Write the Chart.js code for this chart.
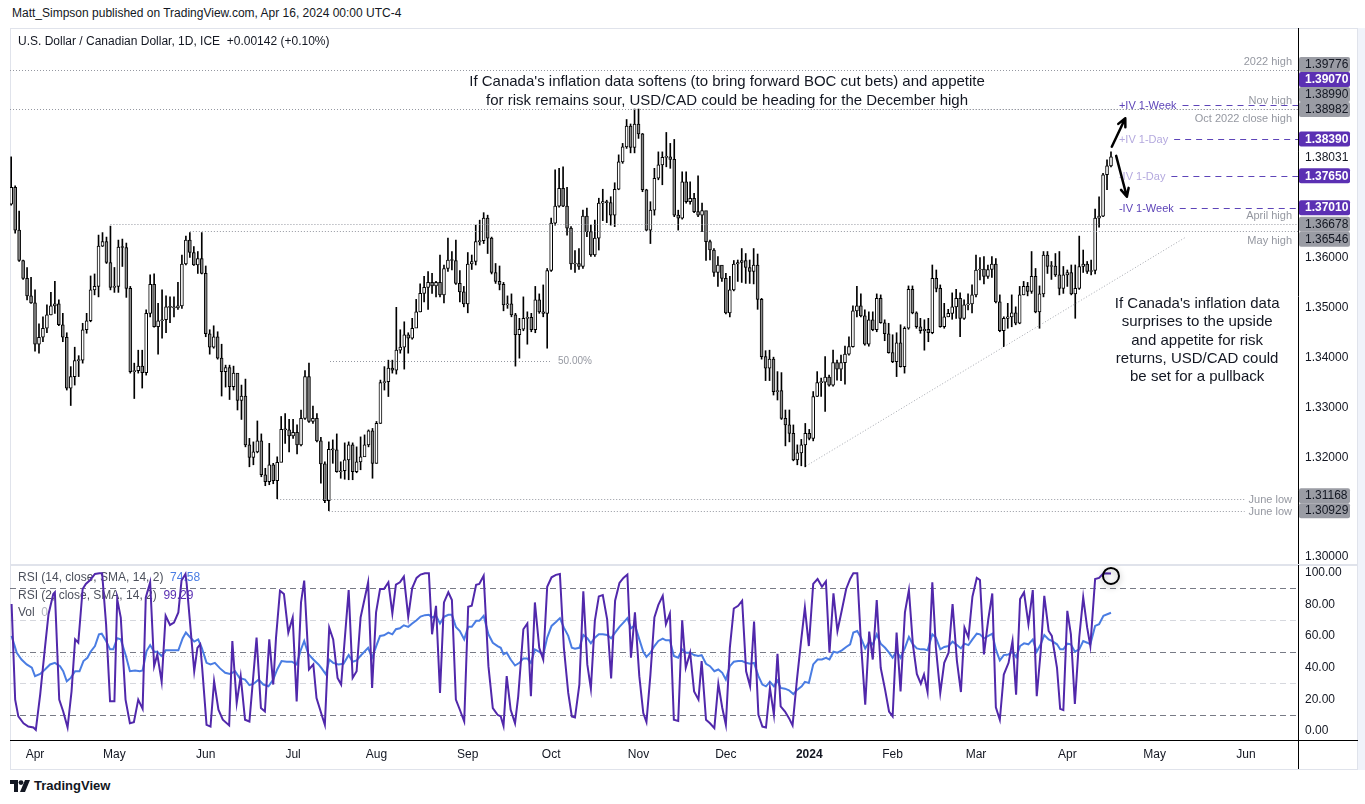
<!DOCTYPE html>
<html>
<head>
<meta charset="utf-8">
<title>USD/CAD daily</title>
<script src="https://cdn.jsdelivr.net/npm/chart.js"></script>
<style>
  body { margin: 0; width: 1365px; height: 804px; background: #fff; position: relative; overflow: hidden;
         font-family: "Liberation Sans", Arial, sans-serif; color: #131722; }
  #pub { position: absolute; left: 12px; top: 6px; font-size: 12px; }
  #frame { position: absolute; left: 10px; top: 28px; width: 1348px; height: 742px; border: 1px solid #e0e3eb; box-sizing: border-box; }
  #strip { position: absolute; left: 1358px; top: 28px; width: 7px; height: 742px; background: #f0f3fa; }
  #sep { position: absolute; left: 10px; top: 564px; width: 1348px; height: 2px; background: #e0e3eb; }
  #c1 { position: absolute; left: 10px; top: 28px; }
  #c2 { position: absolute; left: 10px; top: 565px; }
  #logo { position: absolute; left: 10px; top: 778px; display: flex; align-items: center; gap: 4px;
          font-size: 13px; font-weight: bold; }
</style>
</head>
<body>
<div id="pub">Matt_Simpson published on TradingView.com, Apr 16, 2024 00:00 UTC-4</div>
<div id="frame"></div>
<div id="strip"></div>
<canvas id="c1" width="1348" height="537"></canvas>
<div id="sep"></div>
<canvas id="c2" width="1348" height="204"></canvas>
<div id="logo">
  <svg width="20" height="12" viewBox="0 0 20 12"><path d="M0 0h8v12H4V4H0z" fill="#131722"/><circle cx="11" cy="2.6" r="2.4" fill="#131722"/><path d="M15 0h5l-5 12h-5z" fill="#131722"/></svg>
  <span>TradingView</span>
</div>
<script>
// ---- daily candles, bar index 0 = first trading day of April 2023 ----
const firstBar = -6;
const firstOpen = 1.3708;
const closes = [
  1.3742,1.3656,1.3595,1.3559,1.3524,1.3510,1.3427,1.3441,1.3459,1.3486,
  1.3504,1.3508,1.3466,1.3441,1.3339,1.3362,1.3394,1.3395,1.3456,1.3474,
  1.3536,1.3543,1.3624,1.3633,1.3591,1.3541,1.3543,1.3622,1.3621,1.3539,
  1.3372,1.3374,1.3383,1.3370,1.3489,1.3547,1.3462,1.3474,1.3476,1.3502,
  1.3501,1.3500,1.3504,1.3588,1.3636,1.3611,1.3586,1.3599,1.3569,1.3448,
  1.3421,1.3442,1.3399,1.3372,1.3380,1.3342,1.3369,1.3314,1.3323,1.3225,
  1.3200,1.3211,1.3233,1.3165,1.3151,1.3185,1.3153,1.3190,1.3256,1.3255,
  1.3243,1.3250,1.3225,1.3278,1.3362,1.3272,1.3278,1.3233,1.3187,1.3113,
  1.3216,1.3215,1.3171,1.3173,1.3195,1.3225,1.3171,1.3191,1.3201,1.3225,
  1.3253,1.3188,1.3268,1.3350,1.3352,1.3379,1.3375,1.3415,1.3421,1.3446,
  1.3439,1.3459,1.3492,1.3529,1.3541,1.3551,1.3544,1.3551,1.3526,1.3579,
  1.3596,1.3595,1.3549,1.3532,1.3508,1.3588,1.3593,1.3633,1.3635,1.3680,
  1.3640,1.3571,1.3553,1.3547,1.3506,1.3508,1.3486,1.3446,1.3457,1.3479,
  1.3481,1.3456,1.3516,1.3492,1.3489,1.3575,1.3670,1.3704,1.3740,1.3704,
  1.3660,1.3588,1.3589,1.3583,1.3684,1.3653,1.3606,1.3640,1.3710,1.3713,
  1.3711,1.3686,1.3738,1.3793,1.3823,1.3865,1.3822,1.3869,1.3849,1.3737,
  1.3656,1.3696,1.3760,1.3787,1.3802,1.3803,1.3798,1.3686,1.3680,1.3753,
  1.3713,1.3720,1.3693,1.3686,1.3695,1.3633,1.3616,1.3571,1.3586,1.3559,
  1.3490,1.3536,1.3588,1.3591,1.3595,1.3581,1.3573,1.3586,1.3517,1.3402,
  1.3379,1.3397,1.3332,1.3334,1.3278,1.3265,1.3248,1.3195,1.3209,1.3225,
  1.3248,1.3238,1.3322,1.3350,1.3351,1.3361,1.3345,1.3390,1.3377,1.3390,
  1.3407,1.3422,1.3494,1.3504,1.3484,1.3427,1.3476,1.3456,1.3519,1.3470,
  1.3448,1.3410,1.3392,1.3430,1.3382,1.3459,1.3537,1.3490,1.3462,1.3454,
  1.3457,1.3450,1.3559,1.3539,1.3462,1.3482,1.3489,1.3502,1.3519,1.3479,
  1.3506,1.3508,1.3526,1.3576,1.3578,1.3563,1.3577,1.3588,1.3512,1.3454,
  1.3479,1.3482,1.3490,1.3469,1.3526,1.3543,1.3533,1.3563,1.3492,1.3528,
  1.3606,1.3583,1.3584,1.3566,1.3539,1.3566,1.3571,1.3528,1.3539,1.3583,
  1.3588,1.3573,1.3575,1.3680,1.3684,1.3767,1.3785,1.3803
];
const highs = [
  1.3803,1.3745,1.3694,1.3596,1.3581,1.3561,1.3536,1.3468,1.3482,1.3506,
  1.3531,1.3553,1.3516,1.3489,1.3450,1.3382,1.3421,1.3404,1.3469,1.3489,
  1.3564,1.3568,1.3646,1.3651,1.3642,1.3664,1.3581,1.3636,1.3638,1.3630,
  1.3543,1.3389,1.3415,1.3415,1.3496,1.3566,1.3568,1.3509,1.3536,1.3524,
  1.3522,1.3522,1.3551,1.3606,1.3644,1.3651,1.3623,1.3613,1.3651,1.3584,
  1.3456,1.3464,1.3452,1.3427,1.3385,1.3385,1.3383,1.3367,1.3345,1.3357,
  1.3238,1.3231,1.3273,1.3247,1.3178,1.3228,1.3188,1.3201,1.3282,1.3288,
  1.3276,1.3276,1.3265,1.3295,1.3374,1.3389,1.3303,1.3288,1.3240,1.3191,
  1.3231,1.3235,1.3247,1.3191,1.3229,1.3231,1.3229,1.3221,1.3241,1.3245,
  1.3255,1.3258,1.3272,1.3355,1.3382,1.3395,1.3395,1.3501,1.3456,1.3472,
  1.3450,1.3479,1.3517,1.3548,1.3563,1.3573,1.3569,1.3553,1.3606,1.3586,
  1.3640,1.3613,1.3636,1.3575,1.3543,1.3611,1.3606,1.3666,1.3676,1.3691,
  1.3686,1.3642,1.3589,1.3584,1.3551,1.3524,1.3528,1.3489,1.3479,1.3522,
  1.3492,1.3489,1.3543,1.3528,1.3546,1.3579,1.3680,1.3777,1.3780,1.3783,
  1.3742,1.3663,1.3615,1.3619,1.3696,1.3700,1.3666,1.3676,1.3720,1.3738,
  1.3716,1.3723,1.3751,1.3807,1.3830,1.3878,1.3869,1.3899,1.3899,1.3850,
  1.3738,1.3713,1.3780,1.3813,1.3813,1.3852,1.3830,1.3838,1.3696,1.3773,
  1.3773,1.3753,1.3730,1.3765,1.3710,1.3693,1.3636,1.3619,1.3603,1.3583,
  1.3569,1.3563,1.3595,1.3596,1.3619,1.3609,1.3596,1.3619,1.3608,1.3519,
  1.3414,1.3415,1.3401,1.3372,1.3370,1.3295,1.3295,1.3265,1.3225,1.3236,
  1.3268,1.3256,1.3332,1.3372,1.3359,1.3402,1.3365,1.3415,1.3395,1.3405,
  1.3423,1.3442,1.3504,1.3543,1.3528,1.3496,1.3492,1.3492,1.3528,1.3526,
  1.3476,1.3469,1.3446,1.3450,1.3466,1.3462,1.3544,1.3544,1.3492,1.3479,
  1.3476,1.3479,1.3586,1.3576,1.3546,1.3509,1.3497,1.3530,1.3537,1.3530,
  1.3516,1.3528,1.3546,1.3606,1.3601,1.3603,1.3586,1.3603,1.3599,1.3526,
  1.3482,1.3509,1.3526,1.3502,1.3543,1.3553,1.3551,1.3613,1.3579,1.3544,
  1.3613,1.3613,1.3593,1.3609,1.3613,1.3583,1.3576,1.3586,1.3586,1.3644,
  1.3616,1.3593,1.3596,1.3698,1.3723,1.3770,1.3797,1.3813
];
const lows = [
  1.3706,1.3650,1.3593,1.3557,1.3516,1.3509,1.3413,1.3409,1.3432,1.3450,
  1.3486,1.3489,1.3464,1.3432,1.3335,1.3304,1.3345,1.3362,1.3389,1.3449,
  1.3472,1.3526,1.3522,1.3623,1.3589,1.3536,1.3531,1.3531,1.3583,1.3521,
  1.3369,1.3318,1.3369,1.3339,1.3365,1.3482,1.3461,1.3407,1.3439,1.3450,
  1.3470,1.3482,1.3497,1.3499,1.3586,1.3601,1.3585,1.3569,1.3568,1.3442,
  1.3407,1.3419,1.3397,1.3323,1.3341,1.3316,1.3335,1.3295,1.3276,1.3221,
  1.3181,1.3185,1.3209,1.3161,1.3143,1.3145,1.3147,1.3117,1.3191,1.3228,
  1.3211,1.3238,1.3207,1.3223,1.3276,1.3270,1.3268,1.3231,1.3148,1.3109,
  1.3093,1.3188,1.3170,1.3158,1.3156,1.3155,1.3155,1.3169,1.3175,1.3205,
  1.3221,1.3158,1.3188,1.3268,1.3335,1.3322,1.3369,1.3367,1.3409,1.3377,
  1.3409,1.3437,1.3461,1.3492,1.3512,1.3497,1.3529,1.3522,1.3522,1.3510,
  1.3573,1.3576,1.3547,1.3512,1.3502,1.3490,1.3577,1.3586,1.3626,1.3629,
  1.3609,1.3568,1.3549,1.3536,1.3494,1.3499,1.3482,1.3383,1.3399,1.3454,
  1.3427,1.3452,1.3450,1.3489,1.3482,1.3419,1.3573,1.3666,1.3702,1.3703,
  1.3646,1.3577,1.3571,1.3577,1.3579,1.3643,1.3603,1.3603,1.3616,1.3675,
  1.3671,1.3666,1.3663,1.3737,1.3790,1.3820,1.3811,1.3811,1.3840,1.3733,
  1.3655,1.3629,1.3686,1.3757,1.3747,1.3783,1.3780,1.3683,1.3656,1.3678,
  1.3710,1.3708,1.3691,1.3683,1.3653,1.3595,1.3596,1.3563,1.3543,1.3553,
  1.3488,1.3482,1.3534,1.3553,1.3551,1.3549,1.3549,1.3548,1.3497,1.3397,
  1.3354,1.3354,1.3325,1.3315,1.3276,1.3223,1.3231,1.3193,1.3185,1.3183,
  1.3181,1.3235,1.3233,1.3322,1.3322,1.3292,1.3343,1.3343,1.3355,1.3354,
  1.3347,1.3405,1.3421,1.3482,1.3482,1.3425,1.3423,1.3454,1.3452,1.3469,
  1.3434,1.3409,1.3390,1.3362,1.3381,1.3369,1.3457,1.3488,1.3459,1.3449,
  1.3415,1.3432,1.3448,1.3532,1.3461,1.3459,1.3482,1.3477,1.3479,1.3442,
  1.3477,1.3496,1.3490,1.3522,1.3556,1.3548,1.3559,1.3561,1.3510,1.3452,
  1.3422,1.3459,1.3462,1.3466,1.3468,1.3526,1.3524,1.3529,1.3490,1.3459,
  1.3522,1.3569,1.3557,1.3563,1.3526,1.3529,1.3543,1.3526,1.3479,1.3537,
  1.3571,1.3569,1.3566,1.3568,1.3662,1.3683,1.3737,1.3783
];

// ---- RSI readings as [bar, value] ----
const rsi2 = [
  [-5.9,80.1],[-5.0,19.8],[-4.2,9.2],[-2.9,4.9],[-1.7,2.8],[-0.4,2.2],[0.2,0.7],[1.3,22.9],[2.5,52.5],[3.4,73.7],
  [4.6,86.4],[5.0,87.5],[6.1,19.8],[7.1,12.3],[8.2,2.2],[9.2,25.0],[10.1,57.8],[10.9,55.7],[12.0,89.6],[12.8,92.8],
  [13.9,95.3],[15.1,99.1],[16.2,99.5],[16.9,99.5],[17.9,67.4],[18.9,18.7],[20.0,18.7],[20.7,83.2],[21.6,71.6],[22.8,19.8],
  [23.9,4.9],[24.9,5.6],[26.0,19.8],[27.1,14.0],[27.9,84.3],[29.0,93.8],[30.0,40.9],[30.8,48.3],[31.9,31.0],[32.9,72.7],
  [34.0,66.9],[35.0,68.4],[36.1,74.8],[36.9,94.9],[37.9,99.1],[38.2,92.8],[40.1,37.7],[40.9,52.5],[41.6,54.7],[42.1,39.9],
  [43.2,3.9],[44.2,2.8],[45.1,31.4],[46.2,13.4],[47.3,7.1],[48.9,3.5],[49.7,56.8],[50.8,17.6],[51.8,34.6],[52.9,7.1],
  [54.0,6.0],[55.8,58.9],[56.9,14.5],[57.9,12.3],[59.0,57.8],[60.0,29.3],[60.7,58.9],[61.7,88.5],[62.7,86.4],[63.8,62.1],
  [64.9,71.6],[65.9,18.7],[67.0,81.1],[67.8,94.9],[69.0,38.8],[70.1,42.0],[70.9,20.8],[72.2,10.2],[73.0,3.9],[74.1,65.2],
  [75.1,57.8],[76.2,33.5],[77.1,29.3],[79.0,88.9],[80.0,33.5],[81.0,37.7],[82.0,71.6],[83.9,93.8],[84.9,27.2],[85.9,74.8],
  [86.9,89.6],[87.9,89.6],[89.0,93.8],[90.0,74.1],[90.9,92.3],[91.9,93.8],[92.9,97.4],[94.0,72.0],[95.0,90.2],[96.1,96.6],
  [97.1,98.7],[98.2,99.5],[99.2,99.5],[100.0,61.0],[101.0,79.0],[102.0,24.0],[103.0,81.1],[104.1,87.5],[105.0,82.6],[106.0,19.8],
  [107.0,13.4],[108.1,6.0],[109.1,78.4],[110.0,79.0],[111.1,92.3],[111.9,92.8],[113.0,98.0],[114.2,40.9],[115.3,14.5],[116.5,10.2],
  [117.3,9.2],[118.0,3.2],[118.8,34.6],[119.8,13.4],[120.9,4.9],[121.7,21.9],[123.0,64.2],[124.0,67.8],[124.9,21.9],[125.9,81.1],
  [127.0,52.5],[128.0,45.1],[129.0,91.0],[130.1,97.0],[131.2,98.5],[132.2,99.1],[133.2,52.5],[134.3,24.0],[135.2,9.2],[136.0,8.5],
  [137.1,29.3],[138.1,88.1],[139.1,42.0],[140.0,26.7],[141.0,69.5],[142.0,84.9],[143.0,85.8],[144.1,70.5],[145.1,33.1],[146.1,82.2],
  [147.2,93.4],[148.2,96.6],[149.2,98.7],[150.1,46.2],[151.1,74.8],[152.2,34.6],[153.2,11.3],[154.0,5.6],[155.0,35.6],[156.0,71.6],
  [157.0,79.6],[158.1,85.3],[158.9,67.4],[159.9,74.1],[160.9,7.1],[162.0,6.4],[163.0,69.9],[163.9,39.9],[165.0,49.4],[166.0,25.0],
  [167.1,19.8],[167.9,44.1],[169.0,7.1],[170.0,4.9],[171.1,1.8],[172.1,29.7],[173.1,14.5],[174.0,3.9],[175.0,52.5],[176.0,77.3],
  [177.1,79.0],[178.1,82.2],[179.1,37.7],[180.1,28.2],[181.1,69.0],[182.2,10.2],[183.2,2.8],[184.1,2.2],[185.1,27.2],[186.1,10.2],
  [187.0,48.7],[187.8,15.5],[188.9,12.3],[189.9,8.1],[190.8,3.5],[191.9,32.4],[192.9,55.7],[193.9,77.9],[194.9,53.6],[196.0,92.8],
  [197.1,95.9],[198.2,91.0],[199.2,94.4],[200.1,49.4],[201.1,86.8],[202.1,63.1],[203.2,76.2],[204.3,89.6],[205.3,95.9],[206.1,99.5],
  [207.1,99.5],[208.0,56.8],[209.1,16.6],[210.1,62.7],[211.0,45.1],[212.0,82.6],[213.0,39.9],[214.1,26.1],[215.1,12.3],[216.0,9.2],
  [217.0,62.1],[218.0,25.0],[219.1,74.8],[220.1,88.9],[221.1,54.7],[222.1,36.0],[223.1,29.9],[223.9,35.6],[224.8,24.6],[226.0,93.8],
  [226.9,52.5],[228.0,24.0],[229.0,43.0],[230.1,49.4],[231.1,80.1],[232.2,44.1],[233.2,24.6],[234.1,65.2],[235.1,58.9],[236.1,84.7],
  [237.2,96.6],[238.0,95.3],[239.0,48.3],[240.1,70.5],[241.1,86.8],[242.0,14.9],[243.0,7.1],[244.0,35.6],[245.2,43.0],[246.2,56.8],
  [247.1,22.9],[248.1,83.2],[249.1,87.5],[250.2,67.4],[251.3,88.9],[252.3,21.9],[253.3,50.4],[254.2,85.3],[255.3,63.1],[256.1,60.0],
  [257.4,39.9],[258.2,14.0],[259.0,13.2],[260.0,75.8],[260.9,61.0],[261.9,17.0],[263.0,58.9],[264.0,84.3],[265.0,65.2],[265.8,53.6],
  [267.0,95.9],[268.0,96.6],[269.1,99.5],[271.0,99.3]
];
const rsi14 = [
  [-5.9,60.0],[-4.6,49.4],[-3.4,45.1],[-2.1,42.0],[-0.8,39.9],[0.0,34.6],[1.3,36.0],[2.5,38.8],[3.8,42.0],[5.0,43.0],
  [6.3,40.9],[7.1,37.7],[8.0,31.4],[9.0,33.5],[10.1,37.7],[11.2,37.7],[12.2,44.1],[13.2,46.2],[14.0,50.0],[15.1,53.6],
  [16.1,61.0],[16.8,61.4],[17.9,56.8],[18.9,51.5],[19.7,51.5],[20.7,58.5],[21.6,57.8],[22.9,47.3],[23.9,37.7],[25.2,38.2],
  [26.4,37.7],[27.1,38.2],[28.1,50.4],[29.0,54.2],[30.0,50.0],[30.8,50.0],[31.9,47.3],[32.9,50.9],[34.8,50.9],[36.1,50.9],
  [37.2,58.5],[38.0,62.1],[39.0,59.3],[40.1,56.4],[41.1,57.8],[42.0,52.5],[43.2,43.0],[44.2,42.0],[45.3,43.0],[46.6,39.5],
  [47.9,36.7],[49.1,36.0],[50.4,37.7],[51.5,33.5],[52.9,32.4],[54.0,28.9],[55.0,29.7],[56.3,32.4],[57.5,29.3],[58.8,28.2],
  [60.0,32.4],[61.0,38.8],[62.1,44.1],[63.4,43.7],[64.7,43.7],[65.9,42.0],[66.9,50.9],[67.8,56.8],[68.8,48.7],[70.1,45.1],
  [71.4,42.0],[72.2,39.5],[73.3,35.6],[74.1,45.1],[75.1,43.0],[76.4,42.0],[77.7,42.4],[79.0,47.9],[80.0,43.7],[81.0,44.5],
  [82.3,48.3],[83.9,52.5],[84.9,46.2],[86.1,54.7],[86.9,60.0],[87.9,60.4],[89.0,62.1],[90.0,61.0],[90.9,64.2],[91.9,64.8],
  [92.9,66.7],[94.0,65.7],[95.0,67.8],[96.1,69.9],[97.1,72.2],[98.2,73.1],[99.2,73.3],[100.0,71.6],[101.0,72.7],[102.0,67.8],
  [103.0,72.0],[104.1,73.3],[105.0,73.3],[106.0,65.7],[107.0,63.1],[108.1,57.8],[109.1,65.7],[110.0,65.7],[111.1,69.5],[111.9,69.5],
  [113.0,72.7],[114.2,61.0],[115.3,55.7],[116.5,53.6],[117.3,52.5],[118.0,48.3],[118.8,49.4],[119.8,45.1],[120.9,41.3],[122.0,43.0],
  [123.0,45.8],[124.0,45.8],[124.9,43.0],[125.9,51.5],[127.0,50.0],[128.0,47.9],[129.0,58.9],[130.1,66.3],[131.2,68.8],[132.2,71.2],
  [133.2,65.2],[134.3,60.0],[135.2,52.5],[136.0,51.9],[137.1,52.5],[138.1,60.6],[139.1,58.5],[140.0,55.3],[141.0,58.9],[142.0,61.0],
  [143.0,61.0],[144.1,60.6],[145.1,58.5],[146.1,62.1],[147.2,65.7],[148.2,68.4],[149.2,71.2],[150.1,64.8],[151.1,66.7],[152.2,57.8],
  [153.2,50.0],[154.0,46.8],[155.0,49.4],[156.0,53.6],[157.0,56.8],[158.1,58.3],[158.9,57.2],[159.9,57.2],[160.9,47.3],[162.0,46.2],
  [163.0,51.5],[163.9,49.4],[165.0,49.4],[166.0,47.9],[167.1,47.3],[167.9,47.9],[169.0,42.4],[170.0,40.9],[171.1,37.7],[172.1,38.8],
  [173.1,36.7],[174.0,32.4],[175.0,40.9],[176.0,43.7],[177.1,44.1],[178.1,44.1],[179.1,43.0],[180.1,42.4],[181.1,43.0],[182.2,34.6],
  [183.2,29.3],[184.1,28.2],[185.1,31.0],[186.1,28.2],[187.0,31.8],[187.8,27.2],[188.9,26.7],[189.9,25.7],[191.0,23.3],[192.0,26.1],
  [193.1,28.2],[193.9,31.0],[194.9,30.3],[196.0,42.0],[197.1,45.1],[198.2,45.1],[199.2,46.2],[200.1,45.1],[201.1,50.0],[202.1,49.4],
  [203.2,50.9],[204.3,53.0],[205.3,54.7],[206.1,62.1],[207.1,63.1],[208.0,58.9],[209.1,52.1],[210.1,56.4],[211.0,54.7],[212.0,61.0],
  [213.0,55.1],[214.1,52.5],[215.1,49.4],[216.0,46.2],[217.0,50.4],[218.0,46.2],[219.1,52.5],[220.1,59.3],[221.1,54.7],[222.1,52.1],
  [223.1,51.5],[223.9,51.5],[224.8,50.9],[226.0,61.0],[226.9,58.9],[228.0,51.5],[229.0,53.0],[230.1,53.6],[231.1,56.4],[232.2,54.2],
  [233.2,52.1],[234.1,55.1],[235.1,54.2],[236.1,57.8],[237.2,61.4],[238.0,61.0],[239.0,58.5],[240.1,60.0],[241.1,61.4],[242.0,51.5],
  [243.0,44.5],[244.0,47.9],[245.2,48.3],[246.2,50.0],[247.1,46.6],[248.1,53.6],[249.1,55.3],[250.2,54.7],[251.3,57.8],[252.3,50.0],
  [253.3,54.7],[254.2,60.6],[255.3,57.8],[256.1,56.8],[257.4,54.7],[258.2,51.5],[259.0,51.5],[260.0,55.1],[260.9,54.7],[261.9,50.0],
  [263.0,51.5],[264.0,56.8],[265.0,55.7],[265.8,54.7],[267.0,66.3],[268.0,67.4],[269.1,72.7],[271.0,74.6]
];

// ---- axes ----
const monthLabels = ['Apr','May','Jun','Jul','Aug','Sep','Oct','Nov','Dec','2024','Feb','Mar','Apr','May','Jun'];
const monthBars = [0, 20, 43, 65, 86, 109, 130, 152, 174, 195, 216, 237, 260, 282, 305];
const priceTicks = [1.30, 1.32, 1.33, 1.34, 1.35, 1.36];
const rsiTicks = [0, 20, 40, 60, 80, 100];
const rsiBands = [90, 70, 50, 30, 10];

// ---- drawings ----
const levelNames = ['2022 high', 'Nov high', 'Oct 2022 close high', 'April high', 'May high', 'June low', 'June low'];
const levelPrices = [1.39776, 1.38990, 1.38982, 1.36678, 1.36546, 1.31168, 1.30929];
const levelFrom = [-6.3, 150, -6.3, 19, 39, 61, 74];
const ivNames = ['+IV 1-Week', '+IV 1-Day', '-IV 1-Day', '-IV 1-Week'];
const ivPrices = [1.3907, 1.3839, 1.3765, 1.3701];
const ivFrom = 273;
const tagPrices = [1.39776, 1.39070, 1.38990, 1.38982, 1.38390, 1.38031, 1.37650, 1.37010, 1.36678, 1.36546, 1.31168, 1.30929];
const tagKinds = ['grey','iv','grey','grey','iv','last','iv','iv','grey','grey','grey','grey'];
const fibLevel = 1.3393, fibBars = [74.3, 129.7];
const trendBars = [194.2, 289.7], trendPrices = [1.31826, 1.36412];
const topNote = ["If Canada's inflation data softens (to bring forward BOC cut bets) and appetite",
                 "for risk remains sour, USD/CAD could be heading for the December high"];
const rightNote = ["If Canada's inflation data", "surprises to the upside", "and appetite for risk",
                   "returns, USD/CAD could", "be set for a pullback"];

const xMin = -6.3, xMax = 318.1;
const bars = closes.map((c, k) => firstBar + k);
const opens = closes.map((c, k) => k === 0 ? firstOpen : closes[k - 1]);
const FONT = '"Liberation Sans", Arial, sans-serif';

function line(ctx, x1, y1, x2, y2, color, dash, width) {
  ctx.save();
  ctx.strokeStyle = color;
  ctx.lineWidth = width || 1;
  ctx.setLineDash(dash || []);
  ctx.beginPath();
  ctx.moveTo(x1, y1);
  ctx.lineTo(x2, y2);
  ctx.stroke();
  ctx.restore();
}

function arrow(ctx, x1, y1, x2, y2) {
  const a = Math.atan2(y2 - y1, x2 - x1), h = 9;
  ctx.save();
  ctx.strokeStyle = '#000';
  ctx.lineWidth = 2.5;
  ctx.lineCap = 'round';
  ctx.lineJoin = 'round';
  ctx.beginPath();
  ctx.moveTo(x1, y1);
  ctx.lineTo(x2, y2);
  ctx.moveTo(x2 - h * Math.cos(a - 0.45), y2 - h * Math.sin(a - 0.45));
  ctx.lineTo(x2, y2);
  ctx.lineTo(x2 - h * Math.cos(a + 0.45), y2 - h * Math.sin(a + 0.45));
  ctx.stroke();
  ctx.restore();
}

function roundRect(ctx, x, y, w, h, r) {
  ctx.beginPath();
  ctx.moveTo(x + r, y);
  ctx.arcTo(x + w, y, x + w, y + h, r);
  ctx.arcTo(x + w, y + h, x, y + h, r);
  ctx.arcTo(x, y + h, x, y, r);
  ctx.arcTo(x, y, x + w, y, r);
  ctx.closePath();
}

const priceDrawings = {
  id: 'priceDrawings',
  afterDatasetsDraw(chart) {
    const { ctx, chartArea } = chart;
    const X = v => chart.scales.x.getPixelForValue(v);
    const Y = v => chart.scales.y.getPixelForValue(v);
    const right = chartArea.right;
    ctx.save();
    ctx.font = '11px ' + FONT;

    // key levels
    levelPrices.forEach((p, k) => {
      const y = Math.round(Y(p)) + 0.5;
      const name = levelNames[k];
      const w = ctx.measureText(name).width;
      ctx.fillStyle = '#9598a1';
      ctx.textAlign = 'right';
      if (name === 'June low') {
        line(ctx, X(levelFrom[k]), y, right - w - 10, y, '#9598a1', [1, 2]);
        ctx.textBaseline = 'middle';
        ctx.fillText(name, right - 6, y);
      } else {
        line(ctx, X(levelFrom[k]), y, right, y, '#9598a1', [1, 2]);
        const below = name === 'Oct 2022 close high' || name === 'May high';
        ctx.textBaseline = below ? 'top' : 'bottom';
        ctx.fillText(name, right - 6, below ? y + 4 : y - 3);
      }
    });

    // 50% retracement
    const fy = Math.round(Y(fibLevel)) + 0.5;
    line(ctx, X(fibBars[0]), fy, X(fibBars[1]), fy, '#9598a1', [1, 2]);
    ctx.textAlign = 'left';
    ctx.textBaseline = 'middle';
    ctx.fillStyle = '#9598a1';
    ctx.font = '10px ' + FONT;
    ctx.fillText('50.00%', X(fibBars[1]) + 8, fy);

    // rising trend line
    line(ctx, X(trendBars[0]), Y(trendPrices[0]), X(trendBars[1]), Y(trendPrices[1]), '#a3a6ad', [1, 2]);

    // implied volatility bands
    ctx.font = '11px ' + FONT;
    ivPrices.forEach((p, k) => {
      const y = Math.round(Y(p)) + 0.5;
      const x0 = X(ivFrom);
      const week = ivNames[k].indexOf('Week') > 0;
      ctx.fillStyle = week ? '#5d44b8' : '#b4a9de';
      ctx.textAlign = 'left';
      ctx.textBaseline = 'middle';
      ctx.fillText(ivNames[k], x0, y);
      const w = ctx.measureText(ivNames[k]).width;
      line(ctx, x0 + w + 6, y, right, y, '#5d44b8', [6, 5]);
    });

    // arrows
    arrow(ctx, X(271.2), Y(1.38234), X(274.6), Y(1.38805));
    arrow(ctx, X(272.3), Y(1.38050), X(275.0), Y(1.37230));

    // notes
    ctx.fillStyle = '#131722';
    ctx.font = '15px ' + FONT;
    ctx.textAlign = 'center';
    ctx.textBaseline = 'middle';
    topNote.forEach((t, k) => ctx.fillText(t, X(174.3), Y(1.39532) + k * 19));
    rightNote.forEach((t, k) => ctx.fillText(t, X(292.7), Y(1.35077) + k * 18.3));
    ctx.restore();
  },
  afterDraw(chart) {
    const { ctx, chartArea } = chart;
    const Y = v => chart.scales.y.getPixelForValue(v);
    const right = chartArea.right;
    ctx.save();
    line(ctx, right + 0.5, 0, right + 0.5, chart.height, '#000');

    // symbol header
    ctx.font = '12px ' + FONT;
    ctx.fillStyle = '#131722';
    ctx.textAlign = 'left';
    ctx.textBaseline = 'middle';
    ctx.fillText('U.S. Dollar / Canadian Dollar, 1D, ICE  +0.00142 (+0.10%)', 8, 14);

    // price tags on the axis, pushed apart where they collide
    const tags = tagPrices.map((p, k) => ({ p, kind: tagKinds[k], y: Y(p) }));
    const pushDown = [1.36678, 1.36546];
    for (let k = tags.length - 2; k >= 0; k--) {
      if (pushDown.indexOf(tags[k].p) < 0 && tags[k].y > tags[k + 1].y - 15) tags[k].y = tags[k + 1].y - 15;
    }
    for (let k = 1; k < tags.length; k++) {
      if (pushDown.indexOf(tags[k].p) >= 0 && tags[k].y < tags[k - 1].y + 15) tags[k].y = tags[k - 1].y + 15;
    }
    tags.forEach(t => {
      const bg = t.kind === 'iv' ? '#5b30b3' : t.kind === 'grey' ? '#9a9ca4' : '#ffffff';
      ctx.fillStyle = bg;
      roundRect(ctx, right + 1, t.y - 7.5, 51, 15, 2);
      ctx.fill();
      ctx.fillStyle = t.kind === 'iv' ? '#ffffff' : '#131722';
      ctx.font = (t.kind === 'iv' ? 'bold ' : '') + '12px ' + FONT;
      ctx.textAlign = 'left';
      ctx.fillText(t.p.toFixed(5), right + 7, t.y + 0.5);
    });
    ctx.restore();
  }
};

const rsiDrawings = {
  id: 'rsiDrawings',
  beforeDatasetsDraw(chart) {
    const { ctx, chartArea } = chart;
    const X = v => chart.scales.x.getPixelForValue(v);
    const Y = v => chart.scales.y.getPixelForValue(v);
    rsiBands.forEach(v => {
      const y = Math.round(Y(v)) + 0.5;
      const strong = v === 90 || v === 50 || v === 10;
      line(ctx, chartArea.left, y, chartArea.right, y, strong ? '#787b86' : '#d6d8de', [6, 4]);
    });
    const vy = Math.round(Y(47.6)) + 0.5;
    line(ctx, chartArea.left, vy, X(271), vy, '#cfd1d6', [1, 2]);

    ctx.save();
    ctx.font = '12px ' + FONT;
    ctx.textBaseline = 'middle';
    ctx.textAlign = 'left';
    const legend = [
      ['RSI (14, close, SMA, 14, 2)', '74.58', '#4a7de3'],
      ['RSI (2, close, SMA, 14, 2)', '99.29', '#5b30b3'],
      ['Vol', '0', '#b2b5be']
    ];
    legend.forEach((row, k) => {
      const y = 13 + k * 17.5;
      ctx.fillStyle = '#4c505c';
      ctx.fillText(row[0], 8, y);
      const w = ctx.measureText(row[0] + '  ').width;
      ctx.fillStyle = row[2];
      ctx.fillText(row[1], 8 + w, y);
    });
    ctx.restore();
  },
  afterDraw(chart) {
    const { ctx, chartArea } = chart;
    const X = v => chart.scales.x.getPixelForValue(v);
    const Y = v => chart.scales.y.getPixelForValue(v);
    line(ctx, chartArea.right + 0.5, 0, chartArea.right + 0.5, chart.height, '#000');
    line(ctx, 0, chartArea.bottom + 0.5, chart.width, chartArea.bottom + 0.5, '#000');
    ctx.save();
    ctx.shadowColor = 'rgba(0,0,0,0.35)';
    ctx.shadowBlur = 6;
    ctx.shadowOffsetY = 2;
    ctx.strokeStyle = '#000';
    ctx.lineWidth = 2;
    ctx.beginPath();
    ctx.arc(X(271), Y(97.8), 8, 0, Math.PI * 2);
    ctx.stroke();
    ctx.restore();
  }
};

const common = {
  animation: false,
  responsive: false,
  events: [],
  layout: { padding: 0 },
  plugins: { legend: { display: false }, tooltip: { enabled: false } }
};

new Chart(document.getElementById('c1'), {
  type: 'bar',
  data: {
    datasets: [
      {
        label: 'body',
        data: bars.map((b, k) => ({ x: b, y: [opens[k], closes[k]] })),
        backgroundColor: ctx => closes[ctx.dataIndex] >= opens[ctx.dataIndex] ? '#ffffff' : '#8a8a8a',
        borderColor: '#000000',
        borderWidth: 1,
        borderSkipped: false,
        barThickness: 3,
        minBarLength: 1,
        grouped: false,
        order: 0
      },
      {
        label: 'wick',
        data: bars.map((b, k) => ({ x: b, y: [lows[k], highs[k]] })),
        backgroundColor: '#000000',
        borderWidth: 0,
        barThickness: 1,
        grouped: false,
        order: 1
      }
    ]
  },
  options: {
    ...common,
    scales: {
      x: { type: 'linear', min: xMin, max: xMax, offset: false, display: false },
      y: {
        position: 'right', min: 1.29839, max: 1.40616,
        grid: { display: false, drawTicks: false }, border: { display: false },
        afterBuildTicks: s => { s.ticks = priceTicks.map(v => ({ value: v })); },
        afterFit: s => { s.width = 60; s.paddingTop = 0; s.paddingBottom = 0; },
        ticks: { padding: 7, color: '#131722', font: { family: FONT, size: 12 }, callback: v => Number(v).toFixed(5) }
      }
    }
  },
  plugins: [priceDrawings]
});

new Chart(document.getElementById('c2'), {
  type: 'line',
  data: {
    datasets: [
      { label: 'RSI 2', data: rsi2.map(([x, y]) => ({ x, y })), borderColor: '#5128ab', borderWidth: 2, pointRadius: 0, tension: 0, order: 0 },
      { label: 'RSI 14', data: rsi14.map(([x, y]) => ({ x, y })), borderColor: '#4a7de3', borderWidth: 2, pointRadius: 0, tension: 0, order: 1 }
    ]
  },
  options: {
    ...common,
    scales: {
      x: {
        type: 'linear', min: xMin, max: xMax, offset: false,
        grid: { display: false, drawTicks: false }, border: { display: false },
        afterBuildTicks: s => { s.ticks = monthBars.map(v => ({ value: v })); },
        afterFit: s => { s.height = 29; s.paddingLeft = 0; s.paddingRight = 0; },
        ticks: {
          padding: 7, autoSkip: false, maxRotation: 0, color: '#131722',
          font: c => ({ family: FONT, size: 12, weight: c.tick && c.tick.value === 195 ? 'bold' : 'normal' }),
          callback: v => monthLabels[monthBars.indexOf(v)]
        }
      },
      y: {
        position: 'right', min: -5.68, max: 104.73,
        grid: { display: false, drawTicks: false }, border: { display: false },
        afterBuildTicks: s => { s.ticks = rsiTicks.map(v => ({ value: v })); },
        afterFit: s => { s.width = 60; s.paddingTop = 0; s.paddingBottom = 0; },
        ticks: { padding: 7, color: '#131722', font: { family: FONT, size: 12 }, callback: v => Number(v).toFixed(2) }
      }
    }
  },
  plugins: [rsiDrawings]
});
</script>
</body>
</html>
